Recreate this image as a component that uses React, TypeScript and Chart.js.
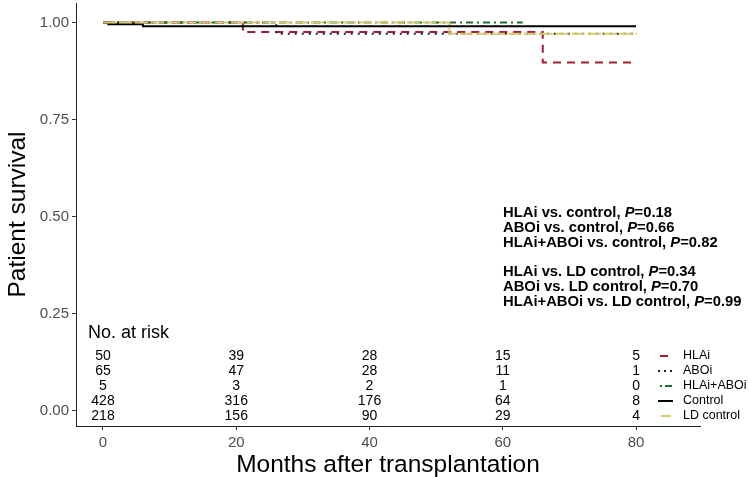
import React, { useEffect, useRef } from 'react';
import { Chart, registerables } from 'chart.js';

Chart.register(...registerables);

// ---- data ----
const tickMonths = [0, 20, 40, 60, 80];
const survivalTicks = [0, 0.25, 0.5, 0.75, 1.0];

const hlaiTimes = [0, 21, 66, 80];
const hlaiSurv = [1, 0.975, 0.897, 0.897];
const aboiTimes = [0, 26, 80];
const aboiSurv = [1, 0.971, 0.971];
const comboTimes = [0, 63];
const comboSurv = [1, 1];
const controlTimes = [0, 0.8, 6, 80];
const controlSurv = [1, 0.995, 0.99, 0.99];
const ldTimes = [0, 52, 80];
const ldSurv = [1, 0.971, 0.969];

const seriesNames = ['HLAi', 'ABOi', 'HLAi+ABOi', 'Control', 'LD control'];
const atRiskHLAi = [50, 39, 28, 15, 5];
const atRiskABOi = [65, 47, 28, 11, 1];
const atRiskCombo = [5, 3, 2, 1, 0];
const atRiskControl = [428, 316, 176, 64, 8];
const atRiskLD = [218, 156, 90, 29, 4];

const pComparisons = [
  'HLAi vs. control, ',
  'ABOi vs. control, ',
  'HLAi+ABOi vs. control, ',
  'HLAi vs. LD control, ',
  'ABOi vs. LD control, ',
  'HLAi+ABOi vs. LD control, ',
];
const pValues = ['0.18', '0.66', '0.82', '0.34', '0.70', '0.99'];

// ---- styles ----
const FONT = '"Liberation Sans", Arial, sans-serif';
const colors = ['#a11d2f', '#222222', '#1d6b35', '#000000', '#d8c872'];
const dashes: number[][] = [[8, 6], [2, 5], [2, 4, 7, 4], [], [13, 3]];

const toPts = (t: number[], s: number[]) => t.map((v, i) => ({ x: v, y: s[i] }));

export default function App() {
  const ref = useRef<HTMLCanvasElement | null>(null);

  useEffect(() => {
    document.body.style.margin = '0';
    const canvas = ref.current;
    if (!canvas) return;

    const atRisk = [atRiskHLAi, atRiskABOi, atRiskCombo, atRiskControl, atRiskLD];

    const overlay = {
      id: 'overlay',
      afterDraw(chart: any) {
        const ctx = chart.ctx as CanvasRenderingContext2D;
        const xs = chart.scales.x;
        const ca = chart.chartArea;
        ctx.save();
        ctx.fillStyle = '#000';
        // axis titles
        ctx.save();
        ctx.translate(25, (ca.top + ca.bottom) / 2);
        ctx.rotate(-Math.PI / 2);
        ctx.font = `24.5px ${FONT}`;
        ctx.textAlign = 'center';
        ctx.textBaseline = 'alphabetic';
        ctx.fillText('Patient survival', 0, 0);
        ctx.restore();
        ctx.font = `24.5px ${FONT}`;
        ctx.textAlign = 'center';
        ctx.textBaseline = 'alphabetic';
        ctx.fillText('Months after transplantation', (ca.left + ca.right) / 2, 472);

        // number at risk
        ctx.textBaseline = 'middle';
        ctx.font = `18px ${FONT}`;
        ctx.textAlign = 'left';
        ctx.fillText('No. at risk', 88, 333);
        const rowY = [356, 371, 386, 401, 416];
        ctx.font = `14px ${FONT}`;
        ctx.textAlign = 'center';
        atRisk.forEach((row, i) => {
          row.forEach((n, j) => {
            ctx.fillText(String(n), xs.getPixelForValue(tickMonths[j]), rowY[i]);
          });
        });

        // legend
        ctx.font = `12.5px ${FONT}`;
        ctx.textAlign = 'left';
        seriesNames.forEach((name, i) => {
          const y = rowY[i];
          ctx.save();
          ctx.strokeStyle = colors[i];
          ctx.lineWidth = 2;
          if (i === 0) {
            ctx.beginPath(); ctx.moveTo(660, y); ctx.lineTo(668, y); ctx.stroke();
          } else if (i === 1) {
            ctx.setLineDash([2, 4]);
            ctx.beginPath(); ctx.moveTo(658, y); ctx.lineTo(673, y); ctx.stroke();
          } else if (i === 2) {
            ctx.beginPath(); ctx.moveTo(660, y); ctx.lineTo(662, y); ctx.stroke();
            ctx.beginPath(); ctx.moveTo(665, y); ctx.lineTo(672, y); ctx.stroke();
          } else if (i === 3) {
            ctx.beginPath(); ctx.moveTo(658, y); ctx.lineTo(673, y); ctx.stroke();
          } else {
            ctx.beginPath(); ctx.moveTo(661, y); ctx.lineTo(671, y); ctx.stroke();
          }
          ctx.restore();
          ctx.fillText(name, 683, y);
        });

        // p-values
        const pY = [213, 228, 243, 272, 287, 302];
        const pSize = 14.8;
        pComparisons.forEach((txt, i) => {
          let x = 503;
          const y = pY[i];
          ctx.font = `bold ${pSize}px ${FONT}`;
          ctx.fillText(txt, x, y);
          x += ctx.measureText(txt).width;
          ctx.font = `italic bold ${pSize}px ${FONT}`;
          ctx.fillText('P', x, y);
          x += ctx.measureText('P').width;
          ctx.font = `bold ${pSize}px ${FONT}`;
          ctx.fillText('=' + pValues[i], x, y);
        });
        ctx.restore();
      },
    };

    const mk = (i: number, t: number[], s: number[]) => ({
      label: seriesNames[i],
      data: toPts(t, s),
      borderColor: colors[i],
      backgroundColor: colors[i],
      borderWidth: 2,
      borderDash: dashes[i],
      pointRadius: 0,
      stepped: 'before' as const,
      fill: false,
    });

    // first dataset is drawn on top
    const datasets = [
      mk(4, ldTimes, ldSurv),
      mk(3, controlTimes, controlSurv),
      mk(2, comboTimes, comboSurv),
      mk(1, aboiTimes, aboiSurv),
      mk(0, hlaiTimes, hlaiSurv),
    ];

    const chart = new Chart(canvas, {
      type: 'line',
      data: { datasets },
      options: {
        responsive: false,
        animation: false,
        layout: { padding: { top: 3, right: 50, left: 0, bottom: 0 } },
        plugins: { legend: { display: false }, tooltip: { enabled: false } },
        scales: {
          x: {
            type: 'linear',
            min: -4.05,
            max: 89.6,
            afterBuildTicks: (s: any) => { s.ticks = tickMonths.map((v) => ({ value: v })); },
            afterFit: (s: any) => { s.height = 51; s.paddingLeft = 0; s.paddingRight = 0; },
            grid: { display: true, drawOnChartArea: false, drawTicks: true, tickLength: 4, color: '#333' },
            border: { display: true, color: '#222', width: 1 },
            ticks: { color: '#4d4d4d', font: { family: FONT, size: 15 }, padding: 4, maxRotation: 0, callback: (v: any) => String(v) },
          },
          y: {
            type: 'linear',
            min: -0.04,
            max: 1.05,
            afterBuildTicks: (s: any) => { s.ticks = survivalTicks.map((v) => ({ value: v })); },
            afterFit: (s: any) => { s.width = 76; s.paddingTop = 0; s.paddingBottom = 0; },
            grid: { display: true, drawOnChartArea: false, drawTicks: true, tickLength: 4, color: '#333' },
            border: { display: true, color: '#222', width: 1 },
            ticks: { color: '#4d4d4d', font: { family: FONT, size: 15 }, padding: 3, callback: (v: any) => Number(v).toFixed(2) },
          },
        },
      },
      plugins: [overlay],
    });
    return () => chart.destroy();
  }, []);

  return (
    <div style={{ width: 750, height: 477 }}>
      <canvas ref={ref} width={750} height={477} style={{ display: 'block' }} />
    </div>
  );
}
